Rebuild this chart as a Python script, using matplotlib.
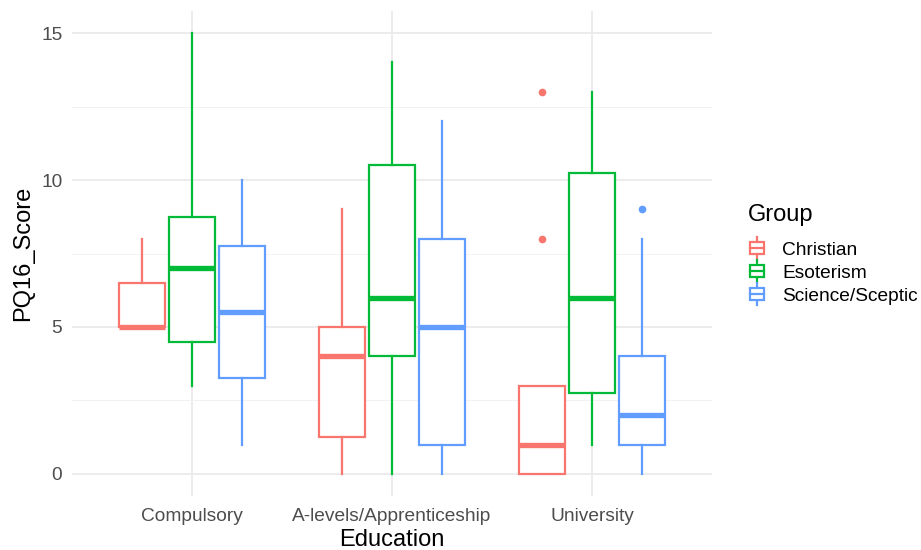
import matplotlib
matplotlib.use("Agg")
import matplotlib.pyplot as plt
from matplotlib.legend_handler import HandlerBase
from matplotlib.patches import Rectangle
from matplotlib.lines import Line2D

plt.rcParams['font.family'] = ['Liberation Sans', 'DejaVu Sans']

categories = ["Compulsory", "A-levels/Apprenticeship", "University"]
groups = ["Christian", "Esoterism", "Science/Sceptic"]
colors = ["#F8766D", "#00BA38", "#619CFF"]

# per group: values per education category
whislo = {"Christian": [5, 0, 0], "Esoterism": [3, 0, 1], "Science/Sceptic": [1, 0, 0]}
q1 = {"Christian": [5, 1.25, 0], "Esoterism": [4.5, 4, 2.75], "Science/Sceptic": [3.25, 1, 1]}
med = {"Christian": [5, 4, 1], "Esoterism": [7, 6, 6], "Science/Sceptic": [5.5, 5, 2]}
q3 = {"Christian": [6.5, 5, 3], "Esoterism": [8.75, 10.5, 10.25], "Science/Sceptic": [7.75, 8, 4]}
whishi = {"Christian": [8, 9, 3], "Esoterism": [15, 14, 13], "Science/Sceptic": [10, 12, 8]}
outliers = {"Christian": [[], [], [8, 13]], "Esoterism": [[], [], []], "Science/Sceptic": [[], [], [9]]}

W, H = 921, 550
fig = plt.figure(figsize=(W/100, H/100), dpi=100)
ax = fig.add_axes([72/W, 1-496/H, 640/W, 485/H])
ax.set_facecolor("white")

offsets = [-0.25, 0, 0.25]
bw = 0.23
lw = 1.6
for gi, g in enumerate(groups):
    stats = []
    for ci in range(len(categories)):
        stats.append(dict(med=med[g][ci], q1=q1[g][ci], q3=q3[g][ci],
                          whislo=whislo[g][ci], whishi=whishi[g][ci],
                          fliers=outliers[g][ci]))
    pos = [ci + 1 + offsets[gi] for ci in range(len(categories))]
    c = colors[gi]
    ax.bxp(stats, positions=pos, widths=bw, showcaps=False, patch_artist=True,
           boxprops=dict(facecolor="white", edgecolor=c, linewidth=lw),
           whiskerprops=dict(color=c, linewidth=lw),
           medianprops=dict(color=c, linewidth=lw*2.4, solid_capstyle="butt"),
           flierprops=dict(marker="o", markerfacecolor=c, markeredgecolor=c, markersize=4.5),
           manage_ticks=False, zorder=3)

ax.set_xlim(0.4, 3.6)
ax.set_ylim(-0.75, 15.75)
ax.set_xticks([1, 2, 3])
ax.set_xticklabels(categories)
ax.set_yticks([0, 5, 10, 15])
ax.set_yticks([2.5, 7.5, 12.5], minor=True)
ax.grid(True, which="major", color="#EBEBEB", linewidth=1.3, zorder=0)
ax.grid(True, which="minor", axis="y", color="#F2F2F2", linewidth=0.7, zorder=0)
ax.set_axisbelow(True)
for s in ax.spines.values():
    s.set_visible(False)
ax.tick_params(axis="both", which="both", length=0, labelsize=13.8, labelcolor="#4D4D4D")
ax.tick_params(axis="y", pad=7)
ax.tick_params(axis="x", pad=8.5)
ax.set_xlabel("Education", fontsize=17, labelpad=3)
ax.set_ylabel("PQ16_Score", fontsize=17, labelpad=5)


class BoxHandler(HandlerBase):
    def __init__(self, color):
        super().__init__()
        self.color = color

    def create_artists(self, legend, orig_handle, xdescent, ydescent, width, height, fontsize, trans):
        c = self.color
        cx = width / 2 - xdescent
        bwid = width * 0.75
        y0 = -ydescent
        arts = []
        arts.append(Line2D([cx, cx], [y0 - 2, y0 + height + 2], color=c, lw=1.6, transform=trans))
        r = Rectangle((cx - bwid/2, y0 + height*0.15), bwid, height*0.7, facecolor="white",
                      edgecolor=c, lw=1.6, transform=trans)
        arts.append(r)
        arts.append(Line2D([cx - bwid/2, cx + bwid/2], [y0 + height/2, y0 + height/2], color=c, lw=1.6, transform=trans))
        return arts


handles = [Line2D([], [], color=c) for c in colors]
hmap = {h: BoxHandler(c) for h, c in zip(handles, colors)}
leg = fig.legend(handles, groups, handler_map=hmap, loc="upper left",
                 bbox_to_anchor=(738/W, 1-194/H), frameon=False, fontsize=13.8,
                 title="Group", title_fontsize=17, handlelength=1.0, handleheight=1.0,
                 handletextpad=0.8, labelspacing=0.2, alignment="left", borderpad=0)
leg._legend_box.sep = 10

fig.savefig("out.png", dpi=100, facecolor="white")
